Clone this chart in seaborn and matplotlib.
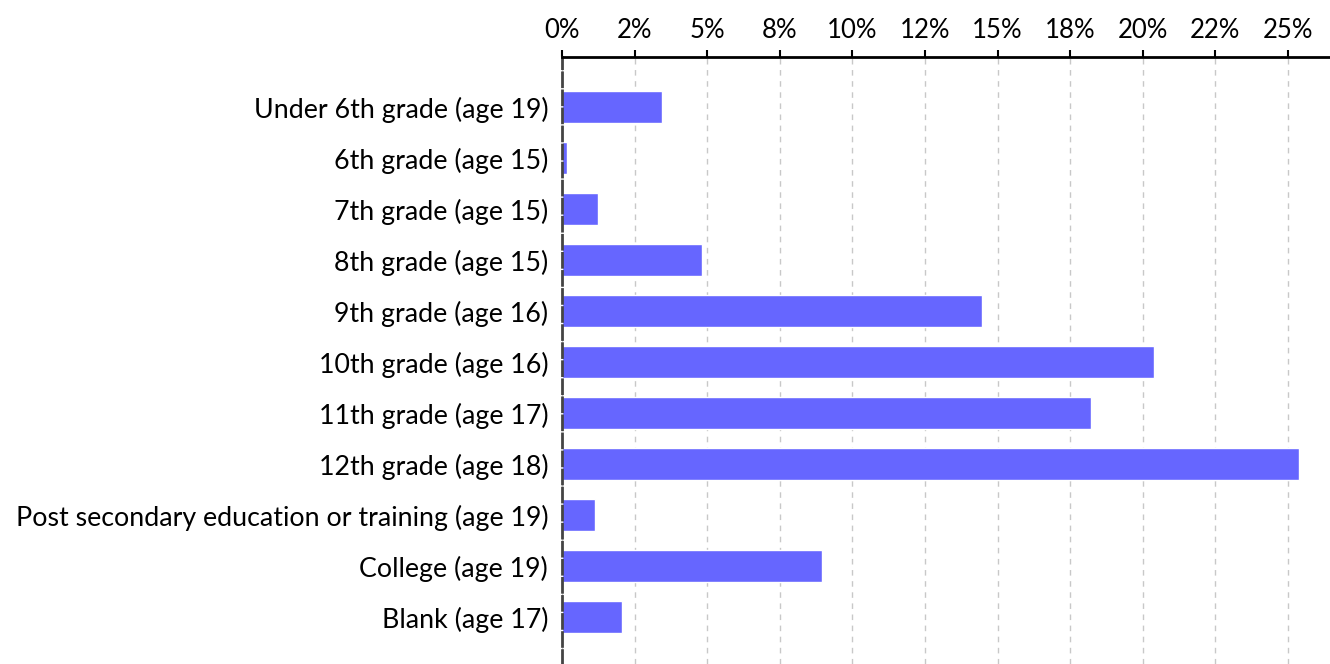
import matplotlib
matplotlib.use("Agg")
import matplotlib.pyplot as plt
import seaborn as sns
import pandas as pd
from matplotlib.ticker import FuncFormatter, MultipleLocator

sns.set_theme(style="white")
plt.rcParams["font.family"] = ["Lato", "DejaVu Sans"]

# -----------------------
# DATA
# -----------------------
categories = [
    "Under 6th grade (age 19)",
    "6th grade (age 15)",
    "7th grade (age 15)",
    "8th grade (age 15)",
    "9th grade (age 16)",
    "10th grade (age 16)",
    "11th grade (age 17)",
    "12th grade (age 18)",
    "Post secondary education or training (age 19)",
    "College (age 19)",
    "Blank (age 17)",
]
percent = [3.44, 0.17, 1.24, 4.82, 14.46, 20.39, 18.22, 25.38, 1.14, 8.95, 2.07]

df = pd.DataFrame({"Category": categories, "Percent": percent})

# -----------------------
# FIGURE
# -----------------------
fig = plt.figure(figsize=(13.3, 6.64), dpi=100)
ax = fig.add_axes([0.4226, 0.0, 0.5774, 0.9142])

sns.barplot(data=df, x="Percent", y="Category", orient="h", color="#6666ff",
            saturation=1, width=0.62, ax=ax)

ax.set_xlim(0, 26.45)
ax.set_ylim(10.92, -0.98)

ax.xaxis.set_major_locator(MultipleLocator(2.5))
ax.xaxis.set_major_formatter(FuncFormatter(lambda v, p: f"{v:.0f}%"))
ax.xaxis.tick_top()
ax.tick_params(axis="x", which="major", direction="out", length=5, width=1.5,
               color="black", labelsize=18.5, pad=5)
ax.tick_params(axis="y", length=0, labelsize=19.3, pad=10)

ax.grid(axis="x", color="#c8c8c8", linestyle=(0, (4, 4)), linewidth=1)
ax.set_axisbelow(True)

for side in ["right", "bottom"]:
    ax.spines[side].set_visible(False)
ax.spines["top"].set_color("black")
ax.spines["top"].set_linewidth(2)
ax.spines["left"].set_color("#444444")
ax.spines["left"].set_linewidth(2)
ax.spines["left"].set_linestyle((0, (5, 1.5)))

ax.set_xlabel("")
ax.set_ylabel("")
for lbl in ax.get_xticklabels() + ax.get_yticklabels():
    lbl.set_color("black")

fig.savefig("out.png", dpi=100)
